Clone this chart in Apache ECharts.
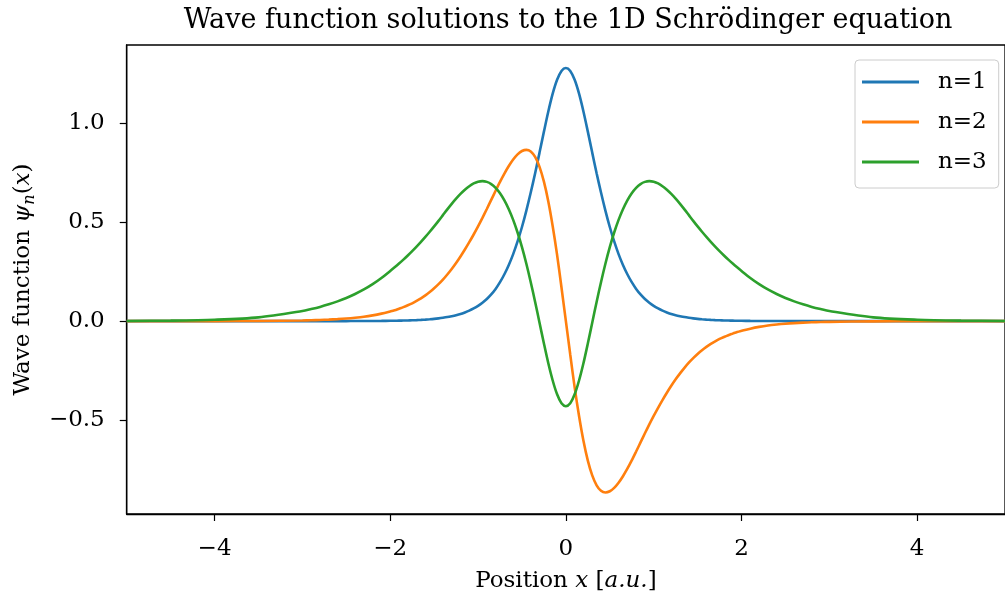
<!DOCTYPE html>
<html>
<head>
<meta charset="utf-8">
<script src="https://cdn.jsdelivr.net/npm/echarts@6/dist/echarts.min.js"></script>
<style>
  html, body { margin: 0; padding: 0; background: #fff; }
  #chart { width: 1005px; height: 598px; }
</style>
</head>
<body>
<div id="chart"></div>
<script>
// Sample positions (a.u.)
const xs = [-5, -4.5, -4, -3.5,
  -3.0, -2.9, -2.8, -2.7, -2.6, -2.5, -2.4, -2.3, -2.2, -2.1,
  -2.0, -1.95, -1.9, -1.85, -1.8, -1.75, -1.7, -1.65, -1.6, -1.55, -1.5, -1.45, -1.4, -1.35, -1.3, -1.25, -1.2, -1.15, -1.1, -1.05,
  -1.0, -0.95, -0.9, -0.85, -0.8, -0.75, -0.7, -0.65, -0.6, -0.55, -0.5, -0.45, -0.4, -0.35, -0.3, -0.25, -0.2, -0.15, -0.1, -0.05,
  0,
  0.05, 0.1, 0.15, 0.2, 0.25, 0.3, 0.35, 0.4, 0.45, 0.5, 0.55, 0.6, 0.65, 0.7, 0.75, 0.8, 0.85, 0.9, 0.95, 1.0,
  1.05, 1.1, 1.15, 1.2, 1.25, 1.3, 1.35, 1.4, 1.45, 1.5, 1.55, 1.6, 1.65, 1.7, 1.75, 1.8, 1.85, 1.9, 1.95, 2.0,
  2.1, 2.2, 2.3, 2.4, 2.5, 2.6, 2.7, 2.8, 2.9, 3.0,
  3.5, 4, 4.5, 5];

// psi_1(x)
const psi1 = [0, 0, 0, 0,
  0.0001, 0.0001, 0.0001, 0.0001, 0.0002, 0.0003, 0.0004, 0.0005, 0.0008, 0.0011,
  0.0017, 0.002, 0.0025, 0.003, 0.0036, 0.0044, 0.0053, 0.0064, 0.0078, 0.0095, 0.0115, 0.014, 0.017, 0.0205, 0.025, 0.030, 0.036, 0.044, 0.053, 0.064,
  0.077, 0.093, 0.112, 0.135, 0.163, 0.197, 0.237, 0.284, 0.339, 0.403, 0.476, 0.559, 0.65, 0.748, 0.852, 0.958, 1.06, 1.15, 1.22, 1.265,
  1.28,
  1.265, 1.22, 1.15, 1.06, 0.958, 0.852, 0.748, 0.65, 0.559, 0.476, 0.403, 0.339, 0.284, 0.237, 0.197, 0.163, 0.135, 0.112, 0.093, 0.077,
  0.064, 0.053, 0.044, 0.036, 0.030, 0.025, 0.0205, 0.017, 0.014, 0.0115, 0.0095, 0.0078, 0.0064, 0.0053, 0.0044, 0.0036, 0.003, 0.0025, 0.002, 0.0017,
  0.0011, 0.0008, 0.0005, 0.0004, 0.0003, 0.0002, 0.0001, 0.0001, 0.0001, 0.0001,
  0, 0, 0, 0];

// psi_2(x)
const psi2 = [0, 0.0001, 0.0003, 0.001,
  0.0035, 0.0045, 0.0059, 0.0077, 0.010, 0.013, 0.017, 0.022, 0.029, 0.038,
  0.049, 0.055, 0.063, 0.071, 0.080, 0.090, 0.102, 0.115, 0.130, 0.147, 0.166, 0.187, 0.21, 0.236, 0.264, 0.294, 0.327, 0.362, 0.399, 0.438,
  0.479, 0.522, 0.567, 0.613, 0.659, 0.704, 0.746, 0.784, 0.817, 0.843, 0.86, 0.866, 0.858, 0.83, 0.78, 0.705, 0.605, 0.48, 0.335, 0.17,
  0,
  -0.17, -0.335, -0.48, -0.605, -0.705, -0.78, -0.83, -0.858, -0.866, -0.86, -0.843, -0.817, -0.784, -0.746, -0.704, -0.659, -0.613, -0.567, -0.522, -0.479,
  -0.438, -0.399, -0.362, -0.327, -0.294, -0.264, -0.236, -0.21, -0.187, -0.166, -0.147, -0.130, -0.115, -0.102, -0.090, -0.080, -0.071, -0.063, -0.055, -0.049,
  -0.038, -0.029, -0.022, -0.017, -0.013, -0.010, -0.0077, -0.0059, -0.0045, -0.0035,
  -0.001, -0.0003, -0.0001, 0];

// psi_3(x)
const psi3 = [0.001, 0.0025, 0.007, 0.019,
  0.051, 0.061, 0.072, 0.085, 0.100, 0.117, 0.137, 0.160, 0.187, 0.218,
  0.254, 0.272, 0.291, 0.311, 0.332, 0.354, 0.377, 0.401, 0.426, 0.452, 0.479, 0.507, 0.536, 0.565, 0.593, 0.619, 0.643, 0.664, 0.682, 0.696,
  0.705, 0.708, 0.704, 0.693, 0.674, 0.647, 0.611, 0.566, 0.512, 0.448, 0.374, 0.29, 0.197, 0.097, -0.008, -0.113, -0.213, -0.30, -0.37, -0.415,
  -0.43,
  -0.415, -0.37, -0.30, -0.213, -0.113, -0.008, 0.097, 0.197, 0.29, 0.374, 0.448, 0.512, 0.566, 0.611, 0.647, 0.674, 0.693, 0.704, 0.708, 0.705,
  0.696, 0.682, 0.664, 0.643, 0.619, 0.593, 0.565, 0.536, 0.507, 0.479, 0.452, 0.426, 0.401, 0.377, 0.354, 0.332, 0.311, 0.291, 0.272, 0.254,
  0.218, 0.187, 0.160, 0.137, 0.117, 0.100, 0.085, 0.072, 0.061, 0.051,
  0.019, 0.007, 0.0025, 0.001];

const seriesNames = ['n=1', 'n=2', 'n=3'];
const seriesColors = ['#1f77b4', '#ff7f0e', '#2ca02c'];
const xTicks = [-4, -2, 0, 2, 4];
const yTicks = [-0.5, 0, 0.5, 1.0];

const FONT = 'DejaVu Serif';
const BASE = 23;

const pairs = ys => xs.map((x, i) => [x, ys[i]]);
const minus = s => String(s).replace('-', '\u2212');

const chart = echarts.init(document.getElementById('chart'), null, { renderer: 'canvas' });

chart.setOption({
  animation: false,
  backgroundColor: '#fff',
  graphic: [{
    type: 'text',
    x: 568, y: 21,
    style: {
      text: 'Wave function solutions to the 1D Schrödinger equation',
      font: '27px "' + FONT + '"',
      fill: '#000',
      textAlign: 'center',
      textVerticalAlign: 'middle'
    }
  }],
  grid: {
    left: 125, top: 45, right: -6, bottom: 80,
    show: true, borderColor: '#000', borderWidth: 1.3, backgroundColor: 'transparent'
  },
  legend: {
    left: 855, top: 60,
    orient: 'vertical',
    icon: 'rect',
    itemWidth: 57, itemHeight: 3, itemGap: 16,
    padding: [10, 12, 14, 7],
    backgroundColor: 'rgba(255,255,255,0.8)',
    borderColor: '#cccccc', borderWidth: 1, borderRadius: 4,
    textStyle: { fontFamily: FONT, fontSize: BASE, color: '#000', lineHeight: 24, padding: [0, 0, 0, 14] },
    data: seriesNames
  },
  xAxis: {
    type: 'value', min: -5, max: 5,
    name: 'Position {i|x} [{i|a.u.}]',
    nameLocation: 'middle', nameGap: 56,
    nameTextStyle: {
      fontFamily: FONT, fontSize: BASE, color: '#000',
      rich: { i: { fontFamily: FONT, fontSize: BASE, fontStyle: 'italic', color: '#000' } }
    },
    axisLine: { show: true, onZero: false, lineStyle: { color: '#000', width: 1.3 } },
    axisTick: { show: true, inside: false, length: 7, customValues: xTicks, lineStyle: { color: '#000', width: 1.2 } },
    axisLabel: { customValues: xTicks, margin: 24, fontFamily: FONT, fontSize: BASE, color: '#000', formatter: v => minus(v) },
    splitLine: { show: false }
  },
  yAxis: {
    type: 'value', min: -0.975, max: 1.396,
    name: 'Wave function {g|ψ}{s|n}{r|(}{g|x}{r|)}',
    nameLocation: 'middle', nameGap: 88, nameRotate: 90,
    nameTextStyle: {
      fontFamily: FONT, fontSize: BASE, color: '#000', lineHeight: 30,
      rich: {
        g: { fontFamily: FONT, fontSize: BASE, fontStyle: 'italic', color: '#000', lineHeight: 30 },
        r: { fontFamily: FONT, fontSize: BASE, color: '#000', lineHeight: 30 },
        s: { fontFamily: FONT, fontSize: 16, fontStyle: 'italic', color: '#000', lineHeight: 16, verticalAlign: 'bottom' }
      }
    },
    axisLine: { show: true, onZero: false, lineStyle: { color: '#000', width: 1.3 } },
    axisTick: { show: true, inside: false, length: 7, customValues: yTicks, lineStyle: { color: '#000', width: 1.2 } },
    axisLabel: { customValues: yTicks, margin: 22, fontFamily: FONT, fontSize: BASE, color: '#000', formatter: v => minus(Number(v).toFixed(1)) },
    splitLine: { show: false }
  },
  series: [psi1, psi2, psi3].map((ys, k) => ({
    name: seriesNames[k],
    type: 'line',
    data: pairs(ys),
    smooth: 0.3,
    showSymbol: false,
    symbol: 'none',
    clip: true,
    color: seriesColors[k],
    lineStyle: { color: seriesColors[k], width: 2.6 }
  }))
});
</script>
</body>
</html>
